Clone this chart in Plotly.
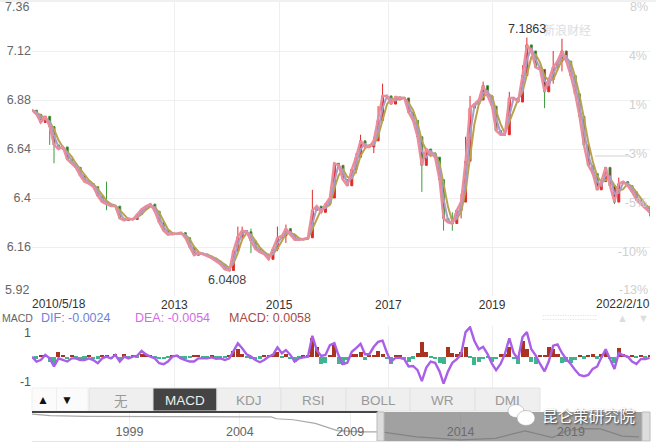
import pandas as pd
import plotly.graph_objects as go

W, H = 656, 443
months = pd.date_range("2010-05-01", "2022-02-01", freq="MS")

close = [6.83,6.81,6.77,6.80,6.75,6.66,6.64,6.65,6.59,6.57,
 6.55,6.51,6.48,6.47,6.455,6.41,6.38,6.37,6.36,6.36,
 6.30,6.29,6.30,6.295,6.32,6.345,6.36,6.37,6.335,6.28,
 6.24,6.22,6.225,6.225,6.23,6.205,6.16,6.12,6.13,6.125,
 6.115,6.105,6.09,6.075,6.05,6.045,6.14,6.21,6.24,6.235,
 6.19,6.15,6.135,6.125,6.10,6.15,6.205,6.215,6.25,6.22,
 6.195,6.195,6.20,6.205,6.34,6.36,6.33,6.37,6.40,6.57,
 6.56,6.49,6.46,6.54,6.60,6.68,6.65,6.65,6.68,6.78,
 6.90,6.90,6.86,6.895,6.89,6.89,6.82,6.78,6.70,6.56,
 6.64,6.62,6.60,6.49,6.30,6.28,6.275,6.34,6.38,6.58,
 6.84,6.86,6.88,6.95,6.90,6.85,6.73,6.71,6.71,6.89,
 6.89,6.87,7.00,7.15,7.12,7.04,7.03,6.92,6.98,7.04,
 7.07,7.12,7.07,7.00,6.91,6.80,6.66,6.56,6.52,6.44,
 6.48,6.55,6.46,6.38,6.47,6.48,6.46,6.43,6.39,6.37,
 6.35,6.33]

spike_month = ["2010-09-01","2010-10-01","2011-10-01","2014-04-01","2014-05-01","2014-07-01","2015-01-01","2015-03-01",
 "2015-09-01","2016-07-01","2016-08-01","2016-11-01","2016-12-01","2017-01-01","2017-10-01","2018-03-01","2018-05-01",
 "2018-07-01","2018-08-01","2018-09-01","2018-12-01","2019-06-01","2019-09-01","2019-10-01","2020-02-01","2020-04-01",
 "2020-06-01","2021-06-01","2021-07-01","2022-02-01"]
spike_high = [6.80,6.70,6.48,6.26,6.26,6.25,6.26,6.27,
 6.44,6.62,6.71,6.70,6.85,6.96,6.62,6.33,6.33,
 6.42,6.70,6.90,6.97,6.92,7.05,7.186,6.95,7.12,
 7.18,6.42,6.50,6.36]
spike_low = [6.66,6.57,6.34,6.14,6.20,6.13,6.14,6.18,
 6.22,6.52,6.60,6.62,6.72,6.82,6.43,6.24,6.24,
 6.30,6.45,6.72,6.88,6.72,6.88,7.0,6.84,6.96,
 7.02,6.37,6.42,6.31]

dif = [0,-.2,-.14,.07,-.07,-.4,-.07,-.14,-.2,-.07,
 -.07,-.14,-.14,-.07,-.14,-.27,-.07,0,-.07,.07,
 -.2,0,-.07,0,.03,.23,.09,0,-.07,-.27,
 -.31,-.2,0,.04,-.07,-.14,-.2,-.2,-.07,-.07,
 -.07,-.03,-.09,-.07,-.14,-.07,.2,.54,.34,.09,
 0,-.14,-.23,-.14,0,.07,.38,.14,.27,.07,
 -.2,-.07,-.03,0,.85,.27,.03,.07,.47,.55,
 .05,-.3,-.25,.2,.35,.52,.1,.1,.4,.6,
 .65,.15,-.2,-.05,-.05,-.1,-.4,-.38,-.55,-1.0,
 -.45,-.2,-.25,-.6,-1.1,-.6,-.25,-.1,.1,1.0,
 1.2,.65,.3,.4,.1,-.3,-.55,-.3,.1,.75,
 .15,-.1,.8,1.0,.3,.05,-.3,-.6,-.2,.45,
 .5,.15,-.1,-.3,-.55,-.75,-.8,-.75,-.5,-.4,
 -.05,.3,-.1,-.5,.15,.05,0,-.2,-.3,-.1,
 -.1,-.05]

hist = [0,-.08,.05,.08,-.2,-.35,.2,.08,-.1,.05,
 -.05,-.1,-.08,.03,-.1,-.08,.05,.08,-.1,.1,
 -.12,.1,-.05,.08,-.03,.12,.1,.05,-.05,-.1,
 -.1,-.05,.03,.06,-.04,-.08,-.06,.03,.06,-.03,
 -.03,.03,-.04,-.05,-.05,.05,.22,.3,.1,-.05,
 -.1,-.12,-.08,.03,.03,.12,.2,-.05,.1,-.1,
 -.22,-.05,.03,.03,.75,.4,-.3,-.25,.05,.5,
 -.3,-.35,-.12,.1,.12,.2,-.15,.08,.05,.25,
 .12,-.1,-.3,.08,.03,-.1,-.2,-.08,.15,.6,
 .2,-.05,-.1,-.25,-.3,.4,.15,.1,.2,.4,
 -.05,-.35,-.2,-.1,-.05,-.2,-.1,.1,.1,.4,
 -.1,-.3,.65,.3,-.2,-.3,.08,.05,.4,.3,
 .1,-.25,-.2,-.25,-.15,.03,-.08,.05,.1,-.08,
 .12,.2,-.1,-.25,.35,.1,-.03,.03,-.02,.03,
 -.02,.05]

nav_years = ["1994-08-01","1995-06-01","1997-01-01","2000-01-01","2005-06-01","2005-09-01","2006-06-01","2007-06-01","2008-06-01","2009-06-01","2010-06-01","2012-01-01","2014-01-01","2015-08-01","2016-12-01","2018-03-01","2018-11-01","2019-09-01","2020-05-01","2021-05-01","2022-02-01"]
nav_close = [8.55,8.40,8.32,8.28,8.27,8.10,8.00,7.65,6.95,6.83,6.83,6.35,6.05,6.20,6.92,6.28,6.95,7.15,7.12,6.42,6.34]

price_ticks = [7.12,6.88,6.64,6.4,6.16]
pct_ticks = [7.095,6.855,6.615,6.375,6.135]
pct_labels = ["4%","1%","-3%","-5%","-10%"]
year_dates = ["2013-01-15","2015-01-13","2017-02-10","2019-02-01"]
year_labels = ["2013","2015","2017","2019"]
tabs = ["无","MACD","KDJ","RSI","BOLL","WR","DMI"]
nav_ticks = ["1999-01-01","2004-01-01","2009-01-01","2014-01-01","2019-01-01"]
nav_labels = ["1999","2004","2009","2014","2019"]

assert len(close) == len(months) == len(dif) == len(hist)
assert len(spike_month) == len(spike_high) == len(spike_low)

FONT = "Liberation Sans, Arial, sans-serif"
px = lambda v: v / W
py = lambda v: 1 - v / H
s = pd.Series(close, index=months)
opens = s.shift(1).fillna(s.iloc[0])
highs = pd.concat([s, opens], axis=1).max(axis=1)
lows = pd.concat([s, opens], axis=1).min(axis=1)
for d, h, l in zip(spike_month, spike_high, spike_low):
    highs[pd.Timestamp(d)] = max(highs[pd.Timestamp(d)], h)
    lows[pd.Timestamp(d)] = min(lows[pd.Timestamp(d)], l)

fig = go.Figure()
fig.add_trace(go.Candlestick(x=months, open=opens, high=highs, low=lows, close=s,
    increasing=dict(line=dict(color="#e02a2a", width=1), fillcolor="#e02a2a"),
    decreasing=dict(line=dict(color="#3f9a3f", width=1), fillcolor="#8a2a20"),
    whiskerwidth=0, showlegend=False, hoverinfo="skip"))
fig.add_trace(go.Scatter(x=months, y=s.rolling(3, min_periods=1).mean(), mode="lines",
    line=dict(color="#b9a24a", width=2), hoverinfo="skip"))
fig.add_trace(go.Scatter(x=months, y=s.rolling(2, min_periods=1).mean(), mode="lines",
    line=dict(color="#a99cc9", width=2), hoverinfo="skip"))
fig.add_trace(go.Scatter(x=months, y=s, mode="lines",
    line=dict(color="#ea8c9c", width=2.4), hoverinfo="skip"))
fig.add_trace(go.Scatter(x=months, y=[None]*len(months), yaxis="y3", hoverinfo="skip"))

fig.add_trace(go.Bar(x=months, y=hist, xaxis="x2", yaxis="y2",
    marker=dict(color=["#a9331f" if v >= 0 else "#3fb58e" for v in hist], line=dict(width=0)),
    hoverinfo="skip"))
fig.add_trace(go.Scatter(x=months, y=dif, xaxis="x2", yaxis="y2", mode="lines",
    line=dict(color="#a95fe8", width=2.4), hoverinfo="skip"))
fig.add_trace(go.Scatter(x=nav_years, y=nav_close, xaxis="x3", yaxis="y4", mode="lines",
    line=dict(color="#a8a8a8", width=1.2), hoverinfo="skip"))

xrange = ["2010-05-01", "2022-02-03"]
grid = "#efeff2"
fig.update_layout(
    width=W, height=H, margin=dict(l=0, r=0, t=0, b=0), autosize=False,
    paper_bgcolor="white", plot_bgcolor="white", showlegend=False, bargap=0,
    font=dict(family=FONT, size=12, color="#555"),
    xaxis=dict(domain=[px(32), px(650)], range=xrange, type="date", tickvals=year_dates, ticktext=year_labels,
        showgrid=True, gridcolor=grid, zeroline=False, showline=False, ticks="", anchor="y",
        rangeslider=dict(visible=False), tickfont=dict(color="#333", size=12)),
    yaxis=dict(domain=[py(296), py(2)], range=[5.92, 7.36], tickvals=price_ticks,
        ticktext=[f"{v:g}" for v in price_ticks], showgrid=True, gridcolor=grid, zeroline=False,
        ticks="", tickfont=dict(color="#666", size=12.5), anchor="x"),
    yaxis3=dict(overlaying="y", side="right", range=[5.92, 7.36], tickvals=pct_ticks, ticktext=pct_labels,
        ticklabelposition="inside", showgrid=False, zeroline=False, ticks="",
        tickfont=dict(color="#cfcfcf", size=12.5), anchor="x"),
    xaxis2=dict(domain=[px(32), px(650)], range=xrange, type="date", tickvals=year_dates, showticklabels=False,
        showgrid=True, gridcolor=grid, zeroline=False, ticks="", anchor="y2"),
    yaxis2=dict(domain=[py(388), py(326)], range=[-1.28, 1.25], tickvals=[1, -1], ticktext=["1", "-1"],
        showgrid=False, zeroline=False, ticks="", tickfont=dict(color="#555", size=12.5), anchor="x2"),
    xaxis3=dict(domain=[px(32), px(650)], range=["1994-08-01", "2022-08-01"], type="date",
        tickvals=nav_ticks, ticktext=nav_labels, ticklabelposition="inside", showgrid=True, gridcolor=grid,
        zeroline=False, ticks="", tickfont=dict(color="#666", size=12.5), anchor="y4"),
    yaxis4=dict(domain=[py(441), py(412)], range=[5.95, 8.75], visible=False, anchor="x3"),
)

shapes, ann = [], []
def rect(x0, y0, x1, y1, fill, line=None, layer="above"):
    shapes.append(dict(type="rect", xref="paper", yref="paper", x0=px(x0), x1=px(x1), y0=py(y1), y1=py(y0),
        fillcolor=fill, line=dict(width=1 if line else 0, color=line or fill), layer=layer))
def txt(x, y, t, color="#555", size=12.5, anchor="center", **kw):
    f = dict(color=color, size=size, family=kw.pop("family", FONT))
    if "shadow" in kw:
        f["shadow"] = kw.pop("shadow")
    ann.append(dict(xref="paper", yref="paper", x=px(x), y=py(y), text=t, showarrow=False, xanchor=anchor,
        yanchor="middle", font=f, **kw))

rect(0, 0, 656, 2, "#f0f0f0", layer="below")
rect(32, 388, 88, 411, "#fbfbfb", "#efefef")
rect(56, 388, 57, 411, "#eeeeee")
tab_x = [89, 153, 217, 281, 346, 410, 475, 540]
for i, t in enumerate(tabs):
    active = t == "MACD"
    rect(tab_x[i], 388, tab_x[i + 1], 411, "#444444" if active else "#efefef", "#e2e2e2")
    txt((tab_x[i] + tab_x[i + 1]) / 2, 400, t, "#eeeeee" if active else "#999999", 13.5,
        family="Noto Sans CJK SC" if t == "无" else FONT)
txt(43, 400, "▲", "#111", 12); txt(67, 400, "▼", "#111", 12)
rect(32, 411, 378, 413, "#444444")
rect(378, 412, 650, 441, "rgba(110,110,110,0.65)")
rect(377, 412, 384, 441, "#dddddd", "#bbbbbb")
rect(642, 412, 650, 441, "#dddddd", "#bbbbbb")
rect(32, 441, 650, 442, "#e5e5e5")
shapes.append(dict(type="line", xref="paper", yref="paper", x0=px(595), x1=px(630), y0=py(156), y1=py(156),
    line=dict(color="#d0d0d0", width=1)))
for cx, cy, rx, ry in [(516, 411, 8, 6.5), (526, 418, 9, 7.5)]:
    shapes.append(dict(type="circle", xref="paper", yref="paper", x0=px(cx - rx), x1=px(cx + rx),
        y0=py(cy + ry), y1=py(cy - ry), fillcolor="white", line=dict(color="#999", width=0.5)))

txt(31, 7, "7.36", "#666", anchor="right")
txt(31, 290, "5.92", "#666", anchor="right")
txt(650, 7, "8%", "#cfcfcf", anchor="right")
txt(650, 290, "-13%", "#cfcfcf", anchor="right")
txt(59, 304, "2010/5/18", "#333", 12)
txt(652, 304, "2022/2/10", "#333", 12, anchor="right")
txt(0, 318, "MACD", "#666", 10.5, anchor="left")
txt(39, 318, "DIF: -0.0024", "#6f7fdc", anchor="left")
txt(133, 318, "DEA: -0.0054", "#d56ae8", anchor="left")
txt(227, 318, "MACD: 0.0058", "#a84c44", anchor="left")
txt(569, 317, "::::::::::::::::::::::", "#dcdcdc", 9)
txt(622, 318, "▲", "#dddddd", 11); txt(643, 318, "▼", "#dddddd", 11)
txt(567, 30, "新浪财经", "#dddddd", 12, family="Noto Sans CJK SC")
txt(227, 280, "6.0408", "#444")
txt(527, 29, "7.1863", "#333")
txt(588, 415, "昆仑策研究院", "#ffffff", 15.5, family="Noto Sans CJK SC", shadow="1px 1px 2px #333")
fig.update_layout(shapes=shapes, annotations=ann)

fig.write_html("out.html", config={"displayModeBar": False}, post_script="document.body.style.margin='0';")
